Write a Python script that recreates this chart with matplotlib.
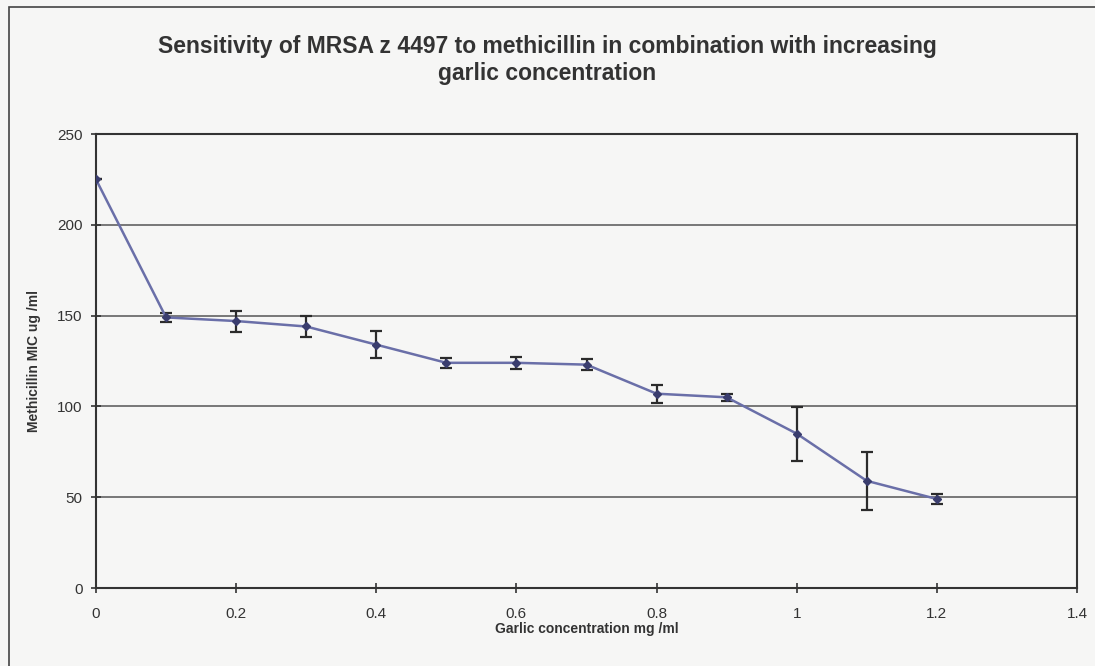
import matplotlib
matplotlib.use('Agg')
import matplotlib.pyplot as plt
from matplotlib.patches import Rectangle

plt.rcParams['font.family'] = ['Liberation Sans', 'DejaVu Sans']

# garlic concentration (mg/ml) vs methicillin MIC (ug/ml)
garlic = [0, 0.1, 0.2, 0.3, 0.4, 0.5, 0.6, 0.7, 0.8, 0.9, 1.0, 1.1, 1.2]
mic = [225, 149, 147, 144, 134, 124, 124, 123, 107, 105, 85, 59, 49]
mic_err = [0, 2.5, 5.8, 5.8, 7.4, 2.8, 3.2, 3.0, 5.0, 1.8, 14.8, 16, 2.8]

x_ticks = [0, 0.2, 0.4, 0.6, 0.8, 1.0, 1.2, 1.4]
x_tick_labels = ['0', '0.2', '0.4', '0.6', '0.8', '1', '1.2', '1.4']
y_ticks = [0, 50, 100, 150, 200, 250]

bg = '#f6f6f5'
fig = plt.figure(figsize=(10.95, 6.66), dpi=100, facecolor=bg)
ax = fig.add_axes([96 / 1095, 1 - 588 / 666, (1077 - 96) / 1095, (588 - 134) / 666])
ax.set_facecolor(bg)

# outer chart frame (only top/left edges visible in the scan)
fig.patches.append(Rectangle((9 / 1095, -0.1), 1.2, 1 - 7 / 666 + 0.1,
                             transform=fig.transFigure, fill=False,
                             edgecolor='#444444', linewidth=1.2))

for y in y_ticks[1:-1]:
    ax.axhline(y, color='#555555', linewidth=1.1, zorder=1)

ax.errorbar(garlic, mic, yerr=mic_err, fmt='none', ecolor='#2b2b2b',
            elinewidth=1.6, capsize=4, capthick=1.6, zorder=2)
ax.plot(garlic, mic, color='#6a6fa8', linewidth=1.8, zorder=3)
ax.plot(garlic, mic, linestyle='none', marker='D', markersize=4,
        color='#3a3d6e', zorder=4)

ax.set_xlim(0, 1.4)
ax.set_ylim(0, 250)
ax.set_xticks(x_ticks)
ax.set_xticklabels(x_tick_labels)
ax.set_yticks(y_ticks)
ax.tick_params(direction='inout', length=7, width=1.2, color='#333333',
               labelsize=11, labelcolor='#333333')
ax.tick_params(axis='x', pad=10)
ax.tick_params(axis='y', pad=6)
for s in ax.spines.values():
    s.set_color('#333333')
    s.set_linewidth(1.5)

ax.set_xlabel('Garlic concentration mg /ml', fontsize=10, fontweight='bold',
              color='#333333', labelpad=1)
ax.set_ylabel('Methicillin MIC ug /ml', fontsize=10, fontweight='bold',
              color='#333333', labelpad=12)
fig.text(0.5, 1 - 60 / 666, 'Sensitivity of MRSA z 4497 to methicillin in combination with increasing\ngarlic concentration',
         ha='center', va='center', fontsize=16.5, fontweight='bold',
         color='#333333', linespacing=1.25)

plt.savefig('out.png', dpi=100, facecolor=bg)
plt.close()
